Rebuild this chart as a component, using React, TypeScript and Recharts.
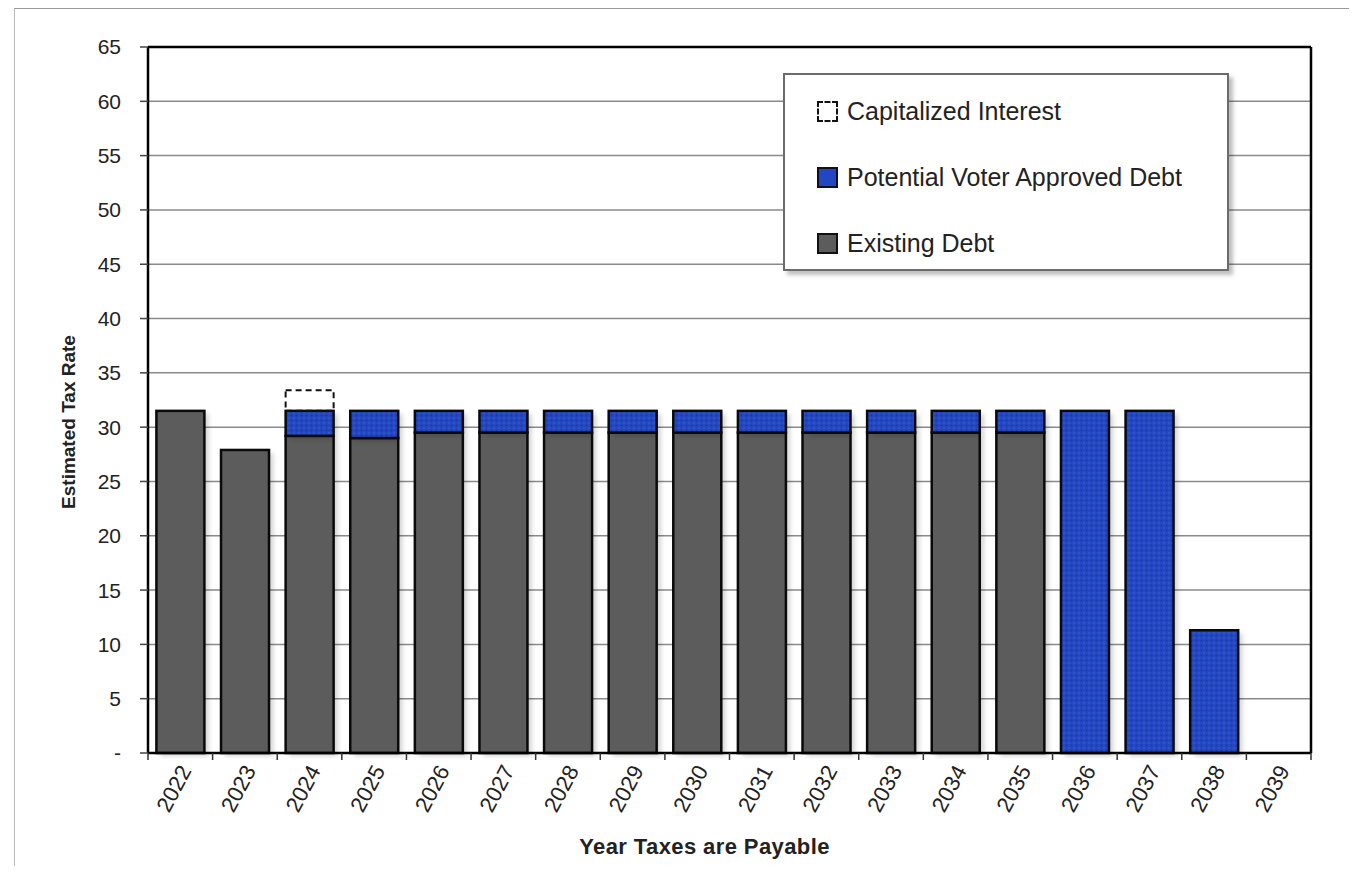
import React from 'react'
import { BarChart, Bar, XAxis, YAxis, CartesianGrid, ReferenceLine } from 'recharts'

const years = ['2022', '2023', '2024', '2025', '2026', '2027', '2028', '2029', '2030', '2031', '2032', '2033', '2034', '2035', '2036', '2037', '2038', '2039']
const existingDebt = [31.5, 27.9, 29.2, 29.0, 29.5, 29.5, 29.5, 29.5, 29.5, 29.5, 29.5, 29.5, 29.5, 29.5, 0, 0, 0, 0]
const voterDebt = [0, 0, 2.3, 2.5, 2.0, 2.0, 2.0, 2.0, 2.0, 2.0, 2.0, 2.0, 2.0, 2.0, 31.5, 31.5, 11.3, 0]
const capInterest = [0, 0, 1.9, 0, 0, 0, 0, 0, 0, 0, 0, 0, 0, 0, 0, 0, 0, 0]
const yTicks = [0, 5, 10, 15, 20, 25, 30, 35, 40, 45, 50, 55, 60, 65]

const data = years.map((y, i) => ({
  year: y,
  existing: existingDebt[i],
  voter: voterDebt[i],
  cap: capInterest[i],
}))

const font = '"Liberation Sans", Arial, sans-serif'

function ShadowRect(props: any) {
  const { x, y, width, height, fill, dashed } = props
  if (!height || height <= 0) return null
  if (dashed) {
    return <rect x={x} y={y} width={width} height={height} fill="none" stroke="#111" strokeWidth={2} strokeDasharray="6 4" />
  }
  return (
    <g>
      <rect x={x + 4} y={y + 3} width={width} height={height} fill="#000" opacity={0.18} filter="url(#blur)" />
      <rect x={x} y={y} width={width} height={height} fill={fill} stroke="#0a0a0a" strokeWidth={2.5} />
    </g>
  )
}

// year label plus tick marks on the category boundaries
function YearTick(props: any) {
  const { x, y, payload, index } = props
  const half = payload && payload.offset ? payload.offset : 32.3
  const tx = x + 5
  const ty = y + 14
  return (
    <g>
      <line x1={x - half} y1={y} x2={x - half} y2={y + 7} stroke="#333" strokeWidth={1.5} />
      {index === years.length - 1 && <line x1={x + half} y1={y} x2={x + half} y2={y + 7} stroke="#333" strokeWidth={1.5} />}
      <text x={tx} y={ty} transform={`rotate(-62, ${tx}, ${ty})`} textAnchor="end" dominantBaseline="central" fill="#222" fontSize={22} fontFamily={font}>
        {payload.value}
      </text>
    </g>
  )
}

function LegendBox() {
  const items = [
    { label: 'Capitalized Interest', kind: 'dash' },
    { label: 'Potential Voter Approved Debt', kind: 'blue' },
    { label: 'Existing Debt', kind: 'gray' },
  ]
  return (
    <div style={{ position: 'absolute', left: 768, top: 64, width: 446, height: 198, background: '#fff', border: '2px solid #6b6b6b', boxShadow: '4px 4px 4px rgba(0,0,0,0.25)', fontFamily: font, fontSize: 25, color: '#222', boxSizing: 'border-box', paddingLeft: 32, paddingTop: 25 }}>
      {items.map((it) => (
        <div key={it.label} style={{ display: 'flex', alignItems: 'center', height: 22, marginBottom: 44 }}>
          <div style={{
            width: 21, height: 21, marginRight: 9, boxSizing: 'border-box',
            border: it.kind === 'dash' ? '2.5px dashed #111' : '2.5px solid #111',
            background: it.kind === 'blue' ? '#2247c2' : it.kind === 'gray' ? '#5c5c5c' : 'transparent',
          }} />
          <span>{it.label}</span>
        </div>
      ))}
    </div>
  )
}

export default function App() {
  return (
    <div style={{ position: 'relative', width: 1341, height: 858, borderTop: '1px solid #999', borderLeft: '1px solid #bbb', marginLeft: 6, boxSizing: 'border-box' }}>
      <BarChart width={1340} height={856} data={data} margin={{ top: 38, right: 44, left: 0, bottom: 0 }} barCategoryGap="13%">
        <defs>
          <pattern id="dots" width="5" height="5" patternUnits="userSpaceOnUse">
            <rect width="5" height="5" fill="#2448c4" />
            <circle cx="1.5" cy="1.5" r="1" fill="#17399f" />
            <circle cx="4" cy="4" r="0.8" fill="#3a5ed0" />
          </pattern>
          <filter id="blur" x="-20%" y="-20%" width="140%" height="140%">
            <feGaussianBlur stdDeviation="2.5" />
          </filter>
        </defs>
        <CartesianGrid vertical={false} stroke="#8a8a8a" strokeWidth={1.5} />
        <XAxis
          dataKey="year"
          height={112}
          interval={0}
          axisLine={{ stroke: '#000', strokeWidth: 2.5 }}
          tickLine={false}
          tickSize={0}
          tickMargin={0}
          tick={<YearTick />}
          label={{ value: 'Year Taxes are Payable', position: 'insideBottom', offset: 11, dx: -25, style: { fontWeight: 'bold', fontSize: 22, letterSpacing: 0.4, fontFamily: font, fill: '#222' } }}
        />
        <YAxis
          width={133}
          domain={[0, 65]}
          ticks={yTicks}
          interval={0}
          tickFormatter={(v: number) => (v === 0 ? '-' : String(v))}
          axisLine={{ stroke: '#000', strokeWidth: 2.5 }}
          tickLine={{ stroke: '#444', strokeWidth: 1.5 }}
          tickSize={8}
          tickMargin={19}
          tick={{ fill: '#222', fontSize: 21, fontFamily: font }}
          label={{ value: 'Estimated Tax Rate', angle: -90, position: 'insideLeft', offset: 53, dy: 22, style: { fontWeight: 'bold', fontSize: 19, fontFamily: font, fill: '#222', textAnchor: 'middle' } }}
        />
        <ReferenceLine y={65} stroke="#000" strokeWidth={2.5} />
        <ReferenceLine x="2039" position="end" stroke="#000" strokeWidth={2.5} />
        <Bar dataKey="existing" stackId="a" fill="#5c5c5c" shape={(p: any) => <ShadowRect {...p} fill="#5c5c5c" />} isAnimationActive={false} />
        <Bar dataKey="voter" stackId="a" fill="#2448c4" shape={(p: any) => <ShadowRect {...p} fill="url(#dots)" />} isAnimationActive={false} />
        <Bar dataKey="cap" stackId="a" fill="none" shape={(p: any) => <ShadowRect {...p} dashed />} isAnimationActive={false} />
      </BarChart>
      <LegendBox />
    </div>
  )
}
